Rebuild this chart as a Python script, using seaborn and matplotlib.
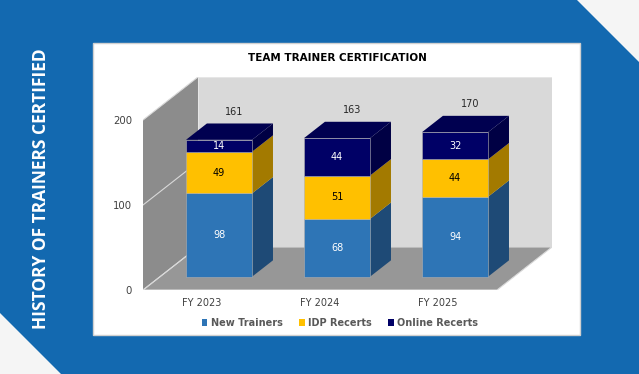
import numpy as np
import pandas as pd
import matplotlib
matplotlib.use("Agg")
import matplotlib.pyplot as plt
from matplotlib.patches import Polygon, Patch
import seaborn as sns

# Data
years = ["FY 2023", "FY 2024", "FY 2025"]
new_trainers = [98, 68, 94]
idp_recerts = [49, 51, 44]
online_recerts = [14, 44, 32]
totals = [161, 163, 170]
series_names = ["New Trainers", "IDP Recerts", "Online Recerts"]
y_ticks = [0, 100, 200]

# Colours (front, side, top)
front_cols = ["#2E75B6", "#FFC000", "#000066"]
side_cols = ["#1E4A76", "#A37A00", "#000044"]
top_cols = ["#2A6AA6", "#E0A800", "#000050"]
text_cols = ["white", "black", "white"]
bg_blue = "#1369B0"

sns.set_theme(style="white")
plt.rcParams["font.family"] = ["DejaVu Sans"]

W, H = 639, 374
fig = plt.figure(figsize=(W / 100, H / 100), dpi=100)
fig.patch.set_facecolor(bg_blue)


def px(x, y):
    # pixel coords (from top-left) -> figure fraction
    return (x / W, 1 - y / H)


# corner triangles
fig.patches.append(Polygon([px(577, 0), px(639, 0), px(639, 62)], closed=True,
                           transform=fig.transFigure, facecolor="#F5F5F5", edgecolor="none", zorder=-5))
fig.patches.append(Polygon([px(0, 313), px(61, 374), px(0, 374)], closed=True,
                           transform=fig.transFigure, facecolor="#F5F5F5", edgecolor="none", zorder=-5))
# white panel
fig.patches.append(Polygon([px(93, 43), px(580, 43), px(580, 335), px(93, 335)], closed=True,
                           transform=fig.transFigure, facecolor="white", edgecolor="#D0D0D0", lw=1,
                           zorder=-5))

# 3D geometry (data units)
DX = 0.466      # depth offset in category units
DY = 50.6       # depth offset in value units
z0, z1 = 0.31, 0.69
bar_w = 0.56
x_lo, x_hi = -0.5, 2.5

left = 143 / W
bottom = (H - 290) / H
ax = fig.add_axes([left, bottom, 409 / W, 213 / H])
ax.set_facecolor("none")
ax.set_zorder(2)


def proj(x, y, z):
    return (x + z * DX, y + z * DY)


# walls and floor
top_val = y_ticks[-1]
ax.add_patch(Polygon([proj(x_lo, 0, 1), proj(x_hi, 0, 1), proj(x_hi, top_val, 1), proj(x_lo, top_val, 1)],
                     closed=True, facecolor="#D9D9D9", edgecolor="#E6E6E6", lw=0.8, zorder=0))
ax.add_patch(Polygon([proj(x_lo, 0, 0), proj(x_lo, 0, 1), proj(x_lo, top_val, 1), proj(x_lo, top_val, 0)],
                     closed=True, facecolor="#8C8C8C", edgecolor="none", zorder=0.5))
ax.add_patch(Polygon([proj(x_lo, 0, 0), proj(x_hi, 0, 0), proj(x_hi, 0, 1), proj(x_lo, 0, 1)],
                     closed=True, facecolor="#979797", edgecolor="#D9D9D9", lw=0.8, zorder=0.6))
for v in y_ticks:
    p0, p1 = proj(x_lo, v, 0), proj(x_lo, v, 1)
    ax.plot([p0[0], p1[0]], [p0[1], p1[1]], color="#D9D9D9", lw=0.8, zorder=0.7)

# stacked bars
layers = [new_trainers, idp_recerts, online_recerts]
xs = np.arange(len(years))
base = np.zeros(len(years))
for k, vals in enumerate(layers):
    vals = np.array(vals, dtype=float)
    front_x = xs + z0 * DX
    sns.barplot(x=front_x, y=vals, native_scale=True, width=bar_w,
                bottom=base + z0 * DY, color=front_cols[k], saturation=1,
                edgecolor="#B0B0B0", linewidth=0.4, zorder=3, ax=ax)
    for i in range(len(years)):
        xl = xs[i] - bar_w / 2
        xr = xs[i] + bar_w / 2
        b, t = base[i], base[i] + vals[i]
        ax.add_patch(Polygon([proj(xr, b, z0), proj(xr, b, z1), proj(xr, t, z1), proj(xr, t, z0)],
                             closed=True, facecolor=side_cols[k], edgecolor="none", zorder=2))
        if k == len(layers) - 1:
            ax.add_patch(Polygon([proj(xl, t, z0), proj(xr, t, z0), proj(xr, t, z1), proj(xl, t, z1)],
                                 closed=True, facecolor=top_cols[k], edgecolor="none", zorder=2))
        cx, cy = proj(xs[i], b + vals[i] / 2, z0)
        ax.text(cx, cy, f"{int(vals[i])}", ha="center", va="center",
                color=text_cols[k], fontsize=7, zorder=5)
    base = base + vals

# totals above each stack
for i, tot in enumerate(totals):
    tx, ty = proj(xs[i], tot + 14, z1)
    ax.text(tx - 0.05, ty, str(tot), ha="center", va="center", color="#262626", fontsize=7)

ax.set_xlim(x_lo, x_hi + DX)
ax.set_ylim(0, top_val + DY)
ax.set_xticks(xs, years)
ax.set_yticks(y_ticks, [str(v) for v in y_ticks])
ax.tick_params(axis="y", length=0, pad=8, labelsize=7.3, labelcolor="#404040")
ax.tick_params(axis="x", length=0, pad=6, labelsize=7, labelcolor="#404040")
ax.set_xlabel("")
ax.set_ylabel("")
for s in ax.spines.values():
    s.set_visible(False)

# title
fig.text(*px(337, 58), "TEAM TRAINER CERTIFICATION", ha="center", va="center",
         fontsize=7.5, fontweight="bold", color="black")

# legend
handles = [Patch(facecolor=c, edgecolor="none") for c in front_cols]
leg = fig.legend(handles, series_names, loc="center", bbox_to_anchor=px(340, 323), ncol=3,
                 frameon=False, fontsize=7, handlelength=0.6, handleheight=0.6,
                 handletextpad=0.4, columnspacing=1.6, borderaxespad=0)
for t in leg.get_texts():
    t.set_color("#595959")
    t.set_fontweight("bold")

# side title
fig.text(*px(41, 189), "HISTORY OF TRAINERS CERTIFIED", rotation=90, ha="center", va="center",
         fontsize=12.5, fontweight="bold", color="white", family=["Open Sans", "DejaVu Sans"])

fig.savefig("out.png", dpi=100, facecolor=fig.get_facecolor())
